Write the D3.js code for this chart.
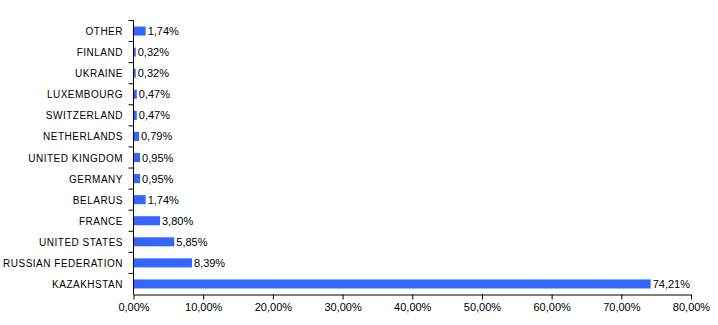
<!DOCTYPE html>
<html><head><meta charset="utf-8">
<script src="https://cdn.jsdelivr.net/npm/d3@7/dist/d3.min.js"></script>
<style>body{margin:0;background:#fff}svg{display:block}text{font-family:"Liberation Sans",Arial,sans-serif;fill:#000}</style>
</head><body><svg id="c" width="718" height="325"></svg>
<script>
const categories = ["OTHER","FINLAND","UKRAINE","LUXEMBOURG","SWITZERLAND","NETHERLANDS","UNITED KINGDOM","GERMANY","BELARUS","FRANCE","UNITED STATES","RUSSIAN FEDERATION","KAZAKHSTAN"];
const values = [1.74,0.32,0.32,0.47,0.47,0.79,0.95,0.95,1.74,3.80,5.85,8.39,74.21];
const tickValues = [0,10,20,30,40,50,60,70,80];

(function(){
const fmt = v => v.toFixed(2).replace(".", ",") + "%";
const svg = d3.select("#c");
const x = d3.scaleLinear().domain([0,80]).range([133.5,691]);
const yTop = 20.5, yBottom = 294.5;
const y = d3.scaleBand().domain(categories).range([yTop,yBottom]).paddingInner(0.57).paddingOuter(0.285);

const g = svg.append("g");
g.selectAll("rect.bar").data(values).enter().append("rect")
  .attr("x", x(0)).attr("y", (d,i)=>y(categories[i]))
  .attr("width", d=>x(d)-x(0)).attr("height", y.bandwidth())
  .attr("fill","#3366FF");

g.selectAll("text.val").data(values).enter().append("text")
  .attr("x", d=>x(d)+2).attr("y",(d,i)=>y(categories[i])+y.bandwidth()/2+4)
  .attr("font-size","11px").text(d=>fmt(d));

g.append("line").attr("x1",x(0)).attr("x2",x(0)).attr("y1",yTop).attr("y2",yBottom).attr("stroke","#000");
categories.forEach((c,i)=>{
  const yb = yTop + i*(yBottom-yTop)/categories.length;
  g.append("line").attr("x1",x(0)-5).attr("x2",x(0)).attr("y1",yb).attr("y2",yb).attr("stroke","#000");
});
g.selectAll("text.cat").data(categories).enter().append("text")
  .attr("x",123).attr("y",c=>y(c)+y.bandwidth()/2+4).attr("text-anchor","end")
  .attr("font-size","10px").attr("letter-spacing","0.5px").text(c=>c);

const xa = svg.append("g").attr("transform",`translate(0,${yBottom})`)
  .call(d3.axisBottom(x).tickValues(tickValues).tickSize(5).tickSizeOuter(0).tickFormat(v=>fmt(v)));
xa.select(".domain").attr("stroke","#000");
xa.selectAll(".tick line").attr("stroke","#000");
xa.selectAll(".tick text").attr("font-size","11px").attr("font-family","Liberation Sans, Arial, sans-serif").attr("dy","0.85em").attr("y",7);
})();
</script></body></html>
